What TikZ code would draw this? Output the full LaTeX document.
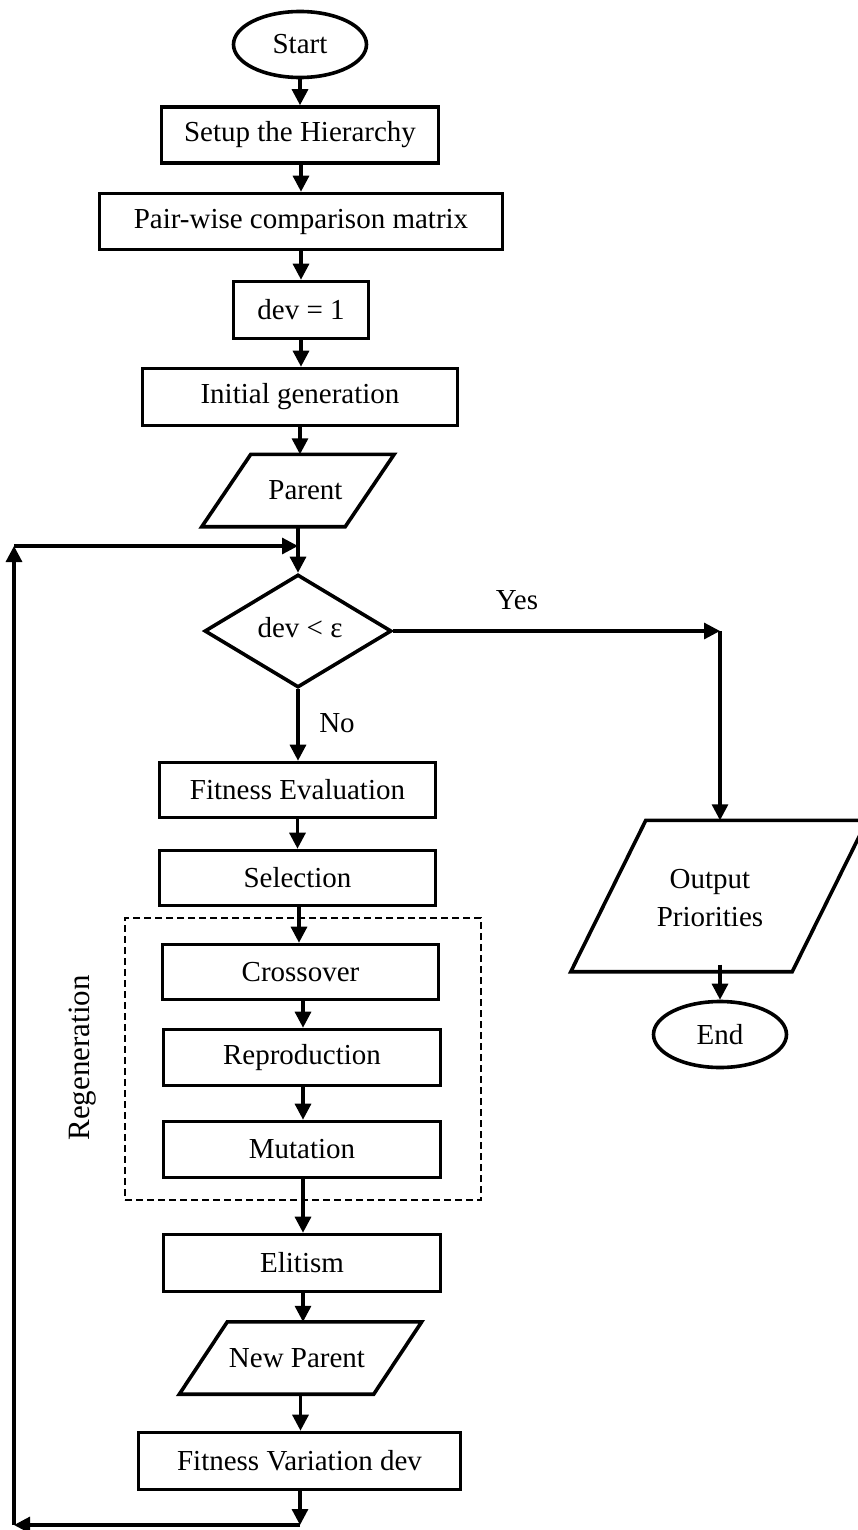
\documentclass[tikz,border=0pt]{standalone}
\usepackage{fontspec}
\setmainfont{Liberation Serif}
\usetikzlibrary{shapes.geometric,arrows.meta}
\begin{document}
\begin{tikzpicture}[x=1pt,y=-1pt,
  every node/.style={font=\fontsize{29}{38}\selectfont, inner sep=0pt},
  box/.style={draw, line width=3.6pt, rectangle, minimum height=56pt},
  term/.style={draw, line width=3.6pt, ellipse, minimum width=133pt, minimum height=66pt},
  dec/.style={draw, line width=3.6pt, diamond, minimum width=187pt, minimum height=113pt},
  io/.style={rectangle, minimum height=72pt},
  para/.style={line width=3.6pt, line join=miter},
  arr/.style={line width=3.2pt, -{Triangle[length=16pt,width=16pt]}},
  frame/.style={draw, line width=1.6pt, dash pattern=on 7pt off 4pt, rectangle},
  ]
\useasboundingbox (0,0) rectangle (857,1530);

% main column
\node[term] (start) at (300,44.5) {Start};
\node[box, minimum width=277pt] (setup) at (300,135) {Setup the Hierarchy};
\node[box, minimum width=403pt] (pair) at (301,221.5) {Pair-wise comparison matrix};
\node[box, minimum width=135pt, minimum height=57pt] (dev1) at (301,310) {dev = 1};
\node[box, minimum width=315pt, minimum height=57pt] (init) at (300,397) {Initial generation};
\node[io, minimum width=192pt] (parent) at (298,490.5) {};
\node at (305.5,490.5) {Parent};
\draw[para] (parent.south west) -- ([xshift=49pt]parent.north west) -- (parent.north east) -- ([xshift=-49pt]parent.south east) -- cycle;
\node[dec] (dec) at (298,631) {};
\node at (300,628) {dev < ε};
\node[box, minimum width=276pt, minimum height=55pt] (fit) at (297.5,790) {Fitness Evaluation};
\node[box, minimum width=276pt, minimum height=55pt] (sel) at (297.5,878) {Selection};
\node[frame, minimum width=356pt, minimum height=282pt] (regen) at (303,1059) {};
\node[rotate=90, font=\fontsize{31}{38}\selectfont] (regenlabel) at (83,1058) {Regeneration};
\node[box, minimum width=276pt, minimum height=55pt] (cross) at (300.5,972) {Crossover};
\node[box, minimum width=277pt] (repr) at (302,1057.5) {Reproduction};
\node[box, minimum width=277pt] (mut) at (302,1149.5) {Mutation};
\node[box, minimum width=277pt, minimum height=57pt] (elit) at (302,1263) {Elitism};
\node[io, minimum width=242pt] (newp) at (300.5,1358) {};
\node at (297,1358) {New Parent};
\draw[para] (newp.south west) -- ([xshift=48pt]newp.north west) -- (newp.north east) -- ([xshift=-48pt]newp.south east) -- cycle;
\node[box, minimum width=322pt, minimum height=57pt] (fitvar) at (299.5,1461) {Fitness Variation dev\hspace{32pt}};

% right branch
\node[io, minimum width=296pt, minimum height=151pt] (out) at (719,896) {};
\node[align=center] at (710,898) {Output\\Priorities};
\draw[para] (out.south west) -- ([xshift=75pt]out.north west) -- (out.north east) -- ([xshift=-75pt]out.south east) -- cycle;
\node[term] (end) at (720,1034.5) {End};

% labels
\node (yes) at (517,600) {Yes};
\node (no) at (337,723) {No};

% loop coordinates
\coordinate (yc) at (720,631);
\coordinate (c1) at (300,1525);
\coordinate (c2) at (14,1525);
\coordinate (c3) at (14,546);
\coordinate (c4) at (298,546);

% connectors
\draw[arr] (start.south) -- (start.south |- setup.north);
\draw[arr] ([xshift=1pt]setup.south) -- ([xshift=1pt]setup.south |- pair.north);
\draw[arr] (pair.south) -- (pair.south |- dev1.north);
\draw[arr] (dev1.south) -- (dev1.south |- init.north);
\draw[arr] (init.south) -- (init.south |- parent.north);
\draw[arr] (parent.south) -- (parent.south |- dec.north);
\draw[arr] (dec.south) -- (dec.south |- fit.north);
\draw[arr] (fit.south) -- (fit.south |- sel.north);
\draw[arr] ([xshift=1.5pt]sel.south) -- ([xshift=1.5pt]sel.south |- cross.north);
\draw[arr] ([xshift=2.5pt]cross.south) -- ([xshift=2.5pt]cross.south |- repr.north);
\draw[arr] ([xshift=1pt]repr.south) -- ([xshift=1pt]repr.south |- mut.north);
\draw[arr] ([xshift=1pt]mut.south) -- ([xshift=1pt]mut.south |- elit.north);
\draw[arr] ([xshift=1pt]elit.south) -- ([xshift=1pt]elit.south |- newp.north);
\draw[arr] (newp.south) -- (newp.south |- fitvar.north);
\draw[arr] (fitvar.south -| c1) -- (c1);
\draw[arr] (c1) -- (c2);
\draw[arr] (c2) -- (c3);
\draw[arr] (c3) -- (c4);
\draw[arr] (dec.east) -- (yc);
\draw[arr] (yc) -- (yc |- out.north);
\draw[arr] ([yshift=7pt]out.south -| end.north) -- (end.north);
\end{tikzpicture}
\end{document}
